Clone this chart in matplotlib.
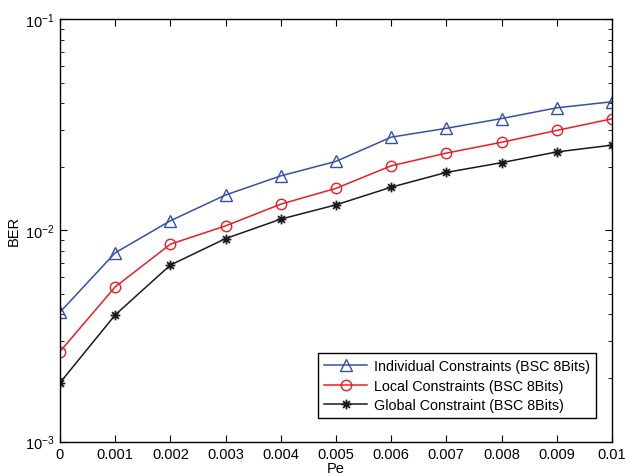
import matplotlib
matplotlib.use('Agg')
import matplotlib.pyplot as plt
from matplotlib.path import Path

plt.rcParams['font.family'] = ['Liberation Sans', 'DejaVu Sans']

pe = [0, 0.001, 0.002, 0.003, 0.004, 0.005, 0.006, 0.007, 0.008, 0.009, 0.01]
ber_individual = [0.0041, 0.00783, 0.0111, 0.0147, 0.0181, 0.0212, 0.0276, 0.0304, 0.0338, 0.038, 0.0406]
ber_local = [0.00267, 0.0054, 0.0086, 0.0105, 0.0133, 0.0158, 0.0202, 0.0232, 0.0261, 0.0297, 0.0337]
ber_global = [0.0019, 0.00398, 0.00685, 0.00914, 0.0113, 0.0132, 0.016, 0.0188, 0.0209, 0.0235, 0.0253]
labels = ['Individual Constraints (BSC 8Bits)', 'Local Constraints (BSC 8Bits)',
          'Global Constraint (BSC 8Bits)']

# matlab style asterisk: plus and cross spokes
d = 0.7071
asterisk = Path([(-1, 0), (1, 0), (0, -1), (0, 1), (-d, -d), (d, d), (-d, d), (d, -d)],
                [Path.MOVETO, Path.LINETO] * 4)

fig = plt.figure(figsize=(6.25, 4.77), dpi=100)
ax = fig.add_axes([0.096, 0.072, 0.883, 0.886])

ax.semilogy(pe, ber_individual, color='#3550a8', marker='^', markersize=8,
            markerfacecolor='none', linewidth=1.1, label=labels[0])
ax.semilogy(pe, ber_local, color='#ee1c25', marker='o', markersize=7.5,
            markerfacecolor='none', linewidth=1.1, label=labels[1])
ax.semilogy(pe, ber_global, color='#1a1a1a', marker=asterisk, markersize=7,
            markerfacecolor='none', markeredgewidth=1.3, linewidth=1.1, label=labels[2])

ax.set_xlim(0, 0.01)
ax.set_ylim(1e-3, 1e-1)
ax.set_xticks(pe)
ax.set_xticklabels(['0', '0.001', '0.002', '0.003', '0.004', '0.005',
                    '0.006', '0.007', '0.008', '0.009', '0.01'])
ax.tick_params(which='both', direction='in', top=True, right=True, labelsize=10.5)
ax.tick_params(which='major', length=5, pad=4)
ax.tick_params(which='minor', length=3)
for s in ax.spines.values():
    s.set_linewidth(1.0)

ax.set_xlabel('Pe', fontsize=10.5, labelpad=0)
ax.set_ylabel('BER', fontsize=10.5, labelpad=3)

leg = ax.legend(loc='lower right', bbox_to_anchor=(0.971, 0.056), fontsize=10.3,
                fancybox=False, edgecolor='black', framealpha=1, borderaxespad=0,
                handlelength=3.0, labelspacing=0.4, borderpad=0.4, handletextpad=0.5)
leg.get_frame().set_linewidth(1.0)

plt.savefig('out.png', dpi=100)
